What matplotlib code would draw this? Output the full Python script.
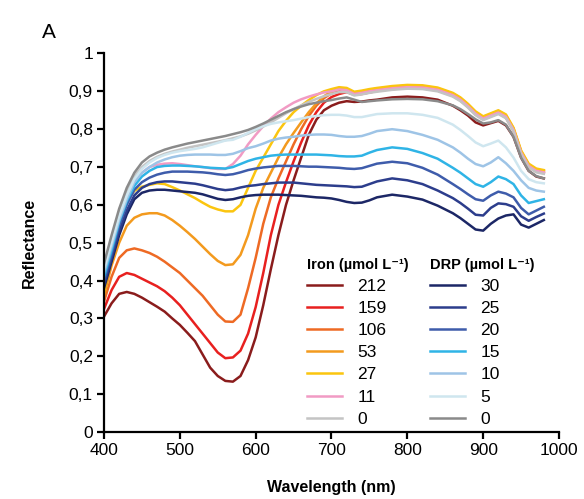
import matplotlib
matplotlib.use("Agg")
import matplotlib.pyplot as plt
from matplotlib.ticker import FuncFormatter, MultipleLocator

plt.rcParams['font.family'] = ['Liberation Sans', 'DejaVu Sans']

wavelength = [400, 410, 420, 430, 440, 450, 460, 470, 480, 490, 500, 510, 520, 530, 540, 550,
              560, 570, 580, 590, 600, 610, 620, 630, 640, 650, 660, 670, 680, 690, 700, 710,
              720, 730, 740, 750, 760, 780, 800, 820, 840, 860, 870, 880, 890, 900, 910, 920,
              930, 940, 950, 960, 970, 980]

iron_labels = ["212", "159", "106", "53", "27", "11", "0"]
drp_labels = ["30", "25", "20", "15", "10", "5", "0"]

iron_212 = [.305, .34, .365, .37, .365, .355, .343, .331, .318, .30, .283, .262, .24, .205, .17, .148,
            .135, .133, .148, .19, .25, .335, .43, .52, .60, .665, .725, .785, .825, .85, .862, .87,
            .874, .872, .873, .876, .878, .884, .886, .884, .878, .862, .85, .836, .818, .81, .816, .822,
            .81, .78, .725, .69, .675, .67]
iron_159 = [.325, .375, .41, .42, .415, .405, .395, .385, .372, .355, .335, .31, .285, .26, .235, .21,
            .195, .197, .215, .26, .33, .42, .52, .60, .66, .715, .765, .81, .845, .87, .885, .893,
            .898, .891, .893, .897, .901, .906, .909, .908, .902, .888, .876, .859, .839, .826, .834, .842,
            .831, .796, .736, .701, .688, .684]
iron_106 = [.345, .41, .46, .48, .485, .48, .473, .463, .45, .435, .42, .40, .38, .36, .335, .31,
            .292, .291, .31, .38, .46, .55, .62, .67, .715, .76, .80, .835, .862, .882, .895, .903,
            .904, .895, .898, .902, .905, .91, .913, .912, .906, .892, .88, .863, .843, .83, .838, .846,
            .835, .80, .74, .705, .692, .688]
iron_53 = [.36, .44, .50, .545, .566, .575, .578, .578, .572, .56, .545, .528, .51, .49, .47, .452,
           .441, .443, .468, .52, .59, .645, .685, .725, .76, .79, .818, .845, .868, .887, .90, .907,
           .906, .897, .90, .904, .907, .912, .915, .914, .908, .894, .882, .865, .845, .832, .84, .848,
           .837, .802, .742, .707, .694, .69]
iron_27 = [.37, .47, .56, .61, .637, .648, .653, .657, .655, .647, .638, .628, .618, .606, .595, .588,
           .583, .583, .60, .645, .69, .725, .76, .795, .822, .845, .862, .877, .89, .90, .906, .911,
           .909, .899, .902, .906, .909, .914, .917, .916, .91, .896, .884, .867, .847, .834, .842, .85,
           .839, .804, .744, .709, .696, .692]
iron_11 = [.40, .48, .56, .62, .66, .685, .70, .706, .709, .71, .708, .705, .702, .70, .697, .695,
           .695, .708, .73, .76, .785, .808, .828, .845, .858, .87, .879, .886, .892, .897, .90, .905,
           .903, .893, .896, .90, .903, .908, .911, .91, .904, .89, .878, .861, .841, .828, .836, .844,
           .833, .798, .738, .703, .69, .686]
iron_0 = [.435, .51, .58, .635, .675, .70, .716, .727, .735, .741, .746, .751, .755, .759, .763, .767,
          .771, .776, .781, .788, .797, .807, .818, .83, .842, .853, .863, .872, .88, .887, .893, .898,
          .898, .889, .892, .896, .899, .904, .907, .906, .90, .886, .874, .857, .837, .824, .832, .84,
          .829, .794, .734, .699, .686, .682]

drp_30 = [.38, .45, .52, .575, .615, .632, .638, .64, .64, .638, .636, .634, .632, .628, .622, .616,
          .613, .615, .62, .624, .626, .627, .627, .627, .626, .625, .624, .622, .62, .619, .617, .613,
          .608, .605, .606, .612, .62, .627, .622, .614, .598, .578, .565, .55, .535, .532, .55, .564,
          .572, .575, .548, .54, .55, .56]
drp_25 = [.39, .46, .53, .585, .625, .645, .655, .66, .662, .662, .66, .658, .656, .652, .647, .642,
          .639, .641, .646, .65, .652, .655, .657, .659, .659, .659, .657, .655, .653, .652, .651, .65,
          .649, .647, .648, .655, .662, .67, .665, .655, .638, .618, .605, .59, .574, .572, .592, .604,
          .602, .595, .57, .558, .568, .577]
drp_20 = [.40, .47, .545, .60, .64, .66, .672, .68, .685, .688, .688, .688, .687, .686, .684, .681,
          .679, .681, .686, .692, .696, .699, .701, .703, .703, .703, .702, .701, .701, .70, .699, .698,
          .696, .695, .697, .703, .709, .714, .71, .698, .68, .655, .642, .628, .615, .611, .625, .635,
          .63, .62, .592, .575, .585, .595]
drp_15 = [.41, .48, .555, .61, .65, .675, .69, .70, .703, .704, .704, .703, .702, .70, .698, .697,
          .696, .70, .708, .716, .722, .726, .73, .732, .733, .733, .733, .733, .733, .732, .731, .729,
          .728, .728, .73, .738, .745, .752, .748, .737, .722, .698, .685, .67, .655, .648, .66, .675,
          .668, .655, .625, .605, .61, .615]
drp_10 = [.42, .49, .56, .615, .66, .685, .70, .712, .72, .726, .73, .732, .733, .733, .733, .732,
          .732, .735, .742, .75, .755, .762, .77, .775, .778, .78, .783, .785, .786, .786, .785, .782,
          .78, .78, .782, .788, .795, .80, .795, .785, .772, .752, .738, .722, .708, .702, .712, .726,
          .71, .69, .665, .645, .638, .635]
drp_5 = [.43, .50, .57, .625, .668, .695, .712, .724, .732, .738, .742, .745, .748, .752, .758, .764,
         .77, .772, .78, .79, .80, .808, .814, .818, .821, .824, .828, .832, .835, .837, .838, .838,
         .836, .832, .832, .836, .84, .842, .842, .838, .83, .812, .798, .782, .765, .755, .762, .77,
         .752, .725, .69, .668, .66, .657]
drp_0 = [.445, .52, .59, .645, .685, .712, .728, .738, .746, .752, .757, .762, .766, .77, .774, .778,
         .782, .787, .792, .798, .806, .815, .825, .835, .845, .853, .86, .866, .87, .874, .877, .881,
         .884, .878, .872, .874, .876, .879, .88, .879, .874, .863, .853, .84, .826, .815, .818, .824,
         .812, .78, .725, .69, .676, .67]

iron_series = [iron_212, iron_159, iron_106, iron_53, iron_27, iron_11, iron_0]
drp_series = [drp_30, drp_25, drp_20, drp_15, drp_10, drp_5, drp_0]
iron_colors = ["#8a1c1c", "#e8201f", "#ee6a24", "#f39a1e", "#fbc50f", "#f19bc4", "#c4c4c4"]
drp_colors = ["#1c2766", "#2c3d8c", "#3e5cab", "#2fb4e6", "#9ec4e6", "#cfe6ef", "#8a8a8a"]

fig = plt.figure(figsize=(5.84, 4.99), dpi=100)
ax = fig.add_axes([104/584, 1-432/499, (559-104)/584, (432-53.5)/499])

iron_handles = []
for vals, c, lab in zip(iron_series, iron_colors, iron_labels):
    h, = ax.plot(wavelength, vals, color=c, lw=1.8, label=lab)
    iron_handles.append(h)
drp_handles = []
for vals, c, lab in zip(drp_series, drp_colors, drp_labels):
    h, = ax.plot(wavelength, vals, color=c, lw=1.8, label=lab)
    drp_handles.append(h)

ax.set_xlim(400, 1000)
ax.set_ylim(0, 1)
ax.xaxis.set_major_locator(MultipleLocator(100))
ax.yaxis.set_major_locator(MultipleLocator(0.1))

def fmt(v, pos):
    s = f"{v:.1f}".replace(".", ",")
    if s.endswith(",0"):
        s = s[:-2]
    return s
ax.yaxis.set_major_formatter(FuncFormatter(fmt))

for s in ["top", "right"]:
    ax.spines[s].set_visible(False)
for s in ["left", "bottom"]:
    ax.spines[s].set_linewidth(1.6)
ax.tick_params(direction="out", length=5, width=1.6, labelsize=12.5, colors="black", pad=3)

ax.set_xlabel("Wavelength (nm)", fontsize=11.5, fontweight="bold", labelpad=16)
ax.set_ylabel("Reflectance", fontsize=11.5, fontweight="bold", labelpad=23)

fig.text(42/584, 1-32/499, "A", fontsize=15, ha="left", va="center")

leg_kw = dict(frameon=False, fontsize=12.5, handlelength=2.0, handletextpad=0.9,
              labelspacing=0.40, borderpad=0, borderaxespad=0, alignment="left",
              title_fontproperties={"weight": "bold", "size": 10.5},
              bbox_transform=fig.transFigure, loc="upper left")
leg1 = ax.legend(handles=iron_handles, title="Iron (µmol L⁻¹)",
                 bbox_to_anchor=(307/584, 1-258/499), **leg_kw)
ax.add_artist(leg1)
leg2 = ax.legend(handles=drp_handles, title="DRP (µmol L⁻¹)",
                 bbox_to_anchor=(430/584, 1-258/499), **leg_kw)

fig.savefig("out.png", dpi=100)
